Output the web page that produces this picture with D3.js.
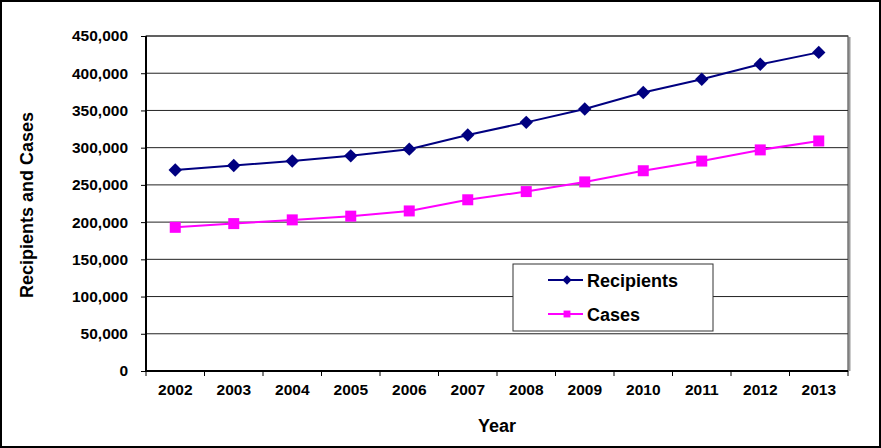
<!DOCTYPE html>
<html>
<head>
<meta charset="utf-8">
<script src="https://cdn.jsdelivr.net/npm/d3@7"></script>
<style>
  body { margin: 0; background: #fff; }
  text { font-family: "Liberation Sans", Arial, sans-serif; font-weight: bold; fill: #000; }
</style>
</head>
<body>
<svg id="chart" width="881" height="448"></svg>
<script>
let years = ["2002", "2003", "2004", "2005", "2006", "2007", "2008", "2009", "2010", "2011", "2012", "2013"];
let recipients = [270000, 276000, 282000, 289000, 298000, 317000, 334000, 352000, 374000, 392000, 412000, 428000];
let cases = [193000, 198000, 203000, 208000, 215000, 230000, 241000, 254000, 269000, 282000, 297000, 309000];
let yTicks = [0, 50000, 100000, 150000, 200000, 250000, 300000, 350000, 400000, 450000];

let svg = d3.select("#chart");
let plot = { left: 146, right: 848, top: 36, bottom: 371 };

// outer frame
svg.append("rect")
  .attr("x", 1).attr("y", 1).attr("width", 879).attr("height", 446)
  .style("fill", "white").style("stroke", "black").style("stroke-width", 2);

let x = d3.scaleBand().domain(years).range([plot.left, plot.right]);
let y = d3.scaleLinear().domain([0, 450000]).range([plot.bottom, plot.top]);

// gridlines
svg.append("g")
  .selectAll("line")
  .data(yTicks.slice(1))
  .enter()
  .append("line")
  .attr("x1", plot.left).attr("x2", plot.right)
  .attr("y1", d => y(d)).attr("y2", d => y(d))
  .style("stroke", "#222").style("stroke-width", 1);

// plot border with slight shadow on right
svg.append("line")
  .attr("x1", plot.right + 1.5).attr("x2", plot.right + 1.5)
  .attr("y1", plot.top + 1).attr("y2", plot.bottom)
  .style("stroke", "#999").style("stroke-width", 2);
svg.append("rect")
  .attr("x", plot.left).attr("y", plot.top)
  .attr("width", plot.right - plot.left).attr("height", plot.bottom - plot.top)
  .style("fill", "none").style("stroke", "#333").style("stroke-width", 1);

// y axis
let yAxis = svg.append("g")
  .attr("transform", "translate(" + plot.left + ",0)")
  .call(d3.axisLeft(y).tickValues(yTicks).tickSize(5).tickPadding(13)
    .tickFormat(d3.format(",")));
yAxis.select(".domain").attr("d", "M0," + plot.top + "V" + plot.bottom).style("stroke", "#000").style("stroke-width", 2);
yAxis.selectAll(".tick line").style("stroke", "#000");
yAxis.selectAll("text").style("font-size", "15.5px");

// x axis: ticks between categories
let xAxis = svg.append("g")
  .attr("transform", "translate(0," + plot.bottom + ")")
  .call(d3.axisBottom(x).tickSize(0).tickPadding(13));
xAxis.select(".domain").attr("d", "M" + plot.left + ",0H" + plot.right).style("stroke", "#000").style("stroke-width", 2);
xAxis.selectAll("text").style("font-size", "15.5px");
xAxis.append("g")
  .selectAll("line")
  .data(years.concat(["end"]))
  .enter()
  .append("line")
  .attr("x1", (d, i) => plot.left + i * x.step())
  .attr("x2", (d, i) => plot.left + i * x.step())
  .attr("y1", 0).attr("y2", 5)
  .style("stroke", "#000");

// axis titles
svg.append("text")
  .attr("x", 497).attr("y", 432)
  .attr("text-anchor", "middle")
  .style("font-size", "18px")
  .text("Year");
svg.append("text")
  .attr("transform", "translate(33,205) rotate(-90)")
  .attr("text-anchor", "middle")
  .style("font-size", "18px")
  .text("Recipients and Cases");

let cx = d => x(d) + x.bandwidth() / 2;
let line = d3.line().x(d => cx(d.year)).y(d => y(d.value));

function series(values) {
  return years.map((yr, i) => ({ year: yr, value: values[i] }));
}

let recData = series(recipients);
let caseData = series(cases);

// Recipients
svg.append("path").datum(recData).attr("d", line)
  .style("fill", "none").style("stroke", "#000080").style("stroke-width", 2);
svg.append("g").selectAll("path").data(recData).enter().append("path")
  .attr("d", d3.symbol().type(d3.symbolDiamond2).size(115))
  .attr("transform", d => "translate(" + cx(d.year) + "," + y(d.value) + ")")
  .style("fill", "#000080");

// Cases
svg.append("path").datum(caseData).attr("d", line)
  .style("fill", "none").style("stroke", "#FF00FF").style("stroke-width", 2);
svg.append("g").selectAll("rect").data(caseData).enter().append("rect")
  .attr("x", d => cx(d.year) - 5.5).attr("y", d => y(d.value) - 5.5)
  .attr("width", 11).attr("height", 11)
  .style("fill", "#FF00FF");

// legend
let legend = svg.append("g").attr("transform", "translate(513,264)");
legend.append("rect")
  .attr("width", 200).attr("height", 67)
  .style("fill", "white").style("stroke", "#333").style("stroke-width", 1);
let legItems = [
  { name: "Recipients", color: "#000080", shape: "diamond" },
  { name: "Cases", color: "#FF00FF", shape: "square" }
];
let li = legend.selectAll(".item").data(legItems).enter().append("g")
  .attr("transform", (d, i) => "translate(0," + (16 + i * 34) + ")");
li.append("line").attr("x1", 35).attr("x2", 70)
  .style("stroke", d => d.color).style("stroke-width", 2);
li.append("path")
  .attr("d", d => d.shape === "diamond"
    ? d3.symbol().type(d3.symbolDiamond2).size(55)()
    : d3.symbol().type(d3.symbolSquare2).size(60)())
  .attr("transform", "translate(54,0)")
  .style("fill", d => d.color);
li.append("text").attr("x", 74).attr("y", 6.5)
  .style("font-size", "18px")
  .text(d => d.name);
</script>
</body>
</html>
